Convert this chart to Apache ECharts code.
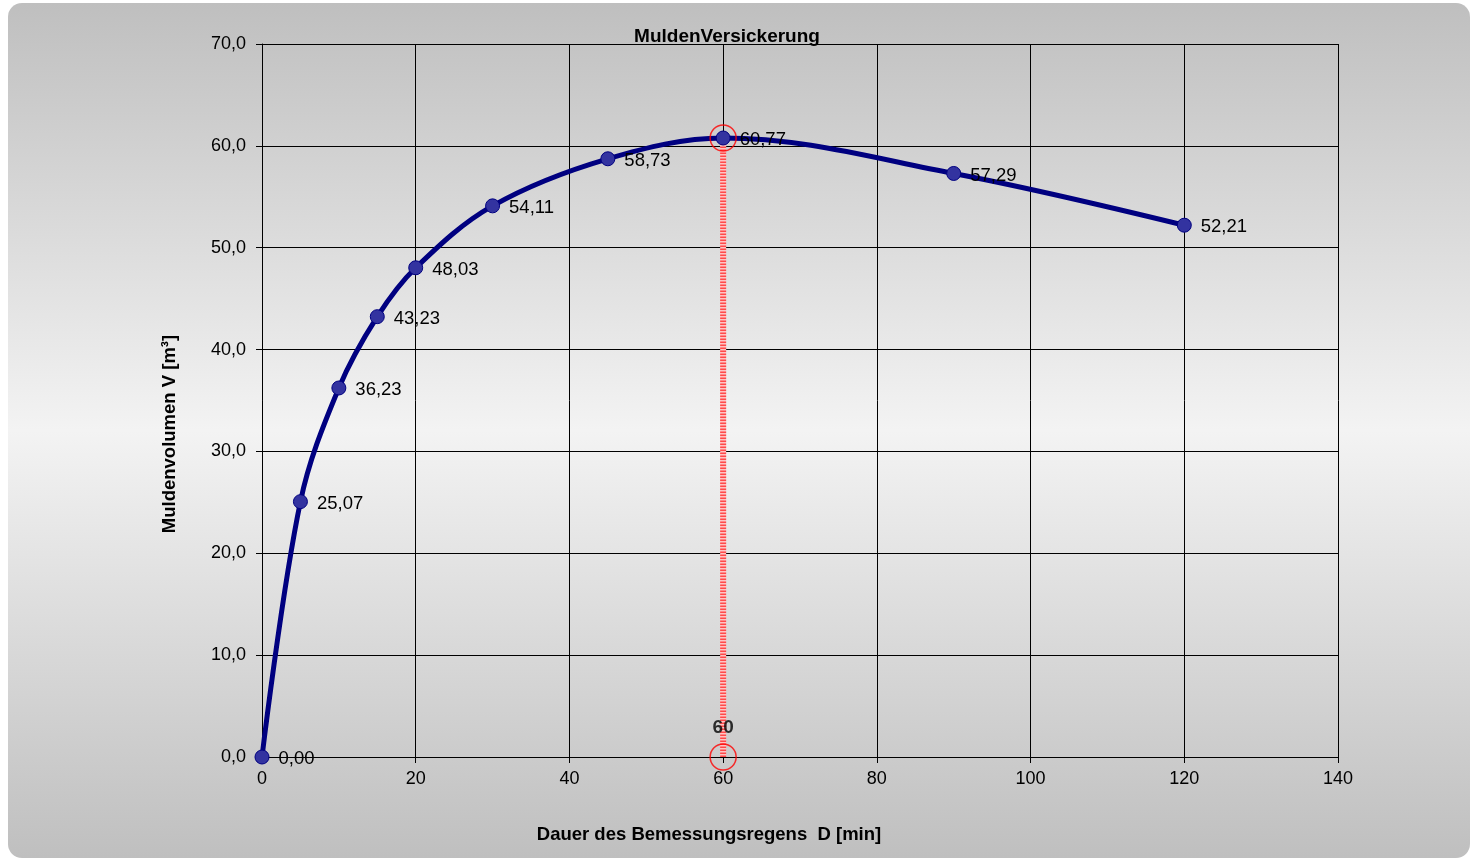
<!DOCTYPE html>
<html><head><meta charset="utf-8">
<script src="https://cdn.jsdelivr.net/npm/echarts@6/dist/echarts.min.js"></script>
<style>html,body{margin:0;padding:0;background:#fff}#c{width:1472px;height:861px}</style>
</head><body><div id="c"></div>
<script>
const durations = [0, 5, 10, 15, 20, 30, 45, 60, 90, 120];
const volumes = [0.00, 25.07, 36.23, 43.23, 48.03, 54.11, 58.73, 60.77, 57.29, 52.21];
const xTicks = [0, 20, 40, 60, 80, 100, 120, 140];
const yTicks = [0, 10, 20, 30, 40, 50, 60, 70];
const maxD = 60;
const maxV = 60.77;

const font = 'Liberation Sans, Arial, sans-serif';
const chart = echarts.init(document.getElementById('c'));
const fmt = v => v.toFixed(2).replace('.', ',');

chart.setOption({
  animation: false,
  graphic: [
    { type: 'rect', z: -10, shape: { x: 8, y: 3, width: 1462, height: 855, r: 14 },
      style: { fill: new echarts.graphic.LinearGradient(0, 0, 0, 1, [
        { offset: 0, color: '#bfbfbf' }, { offset: 0.5, color: '#f3f3f3' }, { offset: 1, color: '#bfbfbf' }]) } },
    { type: 'text', x: 727, y: 37, style: { text: 'MuldenVersickerung', font: 'bold 19px ' + font, fill: '#000', align: 'center', verticalAlign: 'middle' } },
    { type: 'text', x: 709, y: 835, style: { text: 'Dauer des Bemessungsregens  D [min]', font: 'bold 18.5px ' + font, fill: '#000', align: 'center', verticalAlign: 'middle' } },
    { type: 'text', x: 170, y: 434, rotation: Math.PI / 2,
      style: { text: 'Muldenvolumen V [m³]', font: 'bold 18.5px ' + font, fill: '#000', align: 'center', verticalAlign: 'middle' } }
  ],
  grid: { left: 262, right: 134, top: 44, bottom: 104 },
  xAxis: {
    type: 'value', min: 0, max: 140, interval: 20,
    axisLine: { show: true, lineStyle: { color: '#000', width: 1 } },
    axisTick: { show: true, length: 6, lineStyle: { color: '#000' } },
    axisLabel: { color: '#000', fontSize: 18, fontFamily: font, margin: 13,
      formatter: v => xTicks.includes(v) ? String(v) : '' },
    splitLine: { show: true, lineStyle: { color: '#000', width: 1 } }
  },
  yAxis: {
    type: 'value', min: 0, max: 70, interval: 10,
    axisLine: { show: true, lineStyle: { color: '#000', width: 1 } },
    axisTick: { show: true, length: 6, lineStyle: { color: '#000' } },
    axisLabel: { color: '#000', fontSize: 18, fontFamily: font, margin: 16,
      formatter: v => yTicks.includes(v) ? v.toFixed(1).replace('.', ',') : '' },
    splitLine: { show: true, lineStyle: { color: '#000', width: 1 } }
  },
  series: [
    {
      type: 'line', z: 3,
      data: [[maxD, 0], [maxD, maxV]],
      symbol: 'none',
      lineStyle: { color: '#ffc4c4', width: 6 }
    },
    {
      type: 'line', z: 4,
      data: [[maxD, 0], [maxD, maxV]],
      symbol: 'none',
      lineStyle: { color: '#ff4a4a', width: 6, type: [1.5, 1.5] }
    },
    {
      type: 'line', z: 5,
      data: durations.map((d, i) => [d, volumes[i]]),
      smooth: 0.35,
      symbol: 'circle', symbolSize: 14,
      lineStyle: { color: '#000080', width: 5 },
      itemStyle: { color: '#3333a0', borderColor: '#000080', borderWidth: 1 },
      label: { show: true, position: 'right', distance: 9, color: '#000', fontSize: 18.5, fontFamily: font,
        offset: [0, 2], formatter: p => fmt(p.value[1]) }
    },
    {
      type: 'scatter', z: 6,
      data: [[maxD, maxV], [maxD, 0]],
      symbol: 'circle', symbolSize: 26,
      itemStyle: { color: 'rgba(0,0,0,0)', borderColor: '#ff0000', borderWidth: 1.5 },
      label: { show: true, position: 'top', distance: 6, color: '#000', fontSize: 19, fontWeight: 'bold', fontFamily: font,
        formatter: p => p.dataIndex === 1 ? String(maxD) : '' }
    }
  ]
});
</script></body></html>
